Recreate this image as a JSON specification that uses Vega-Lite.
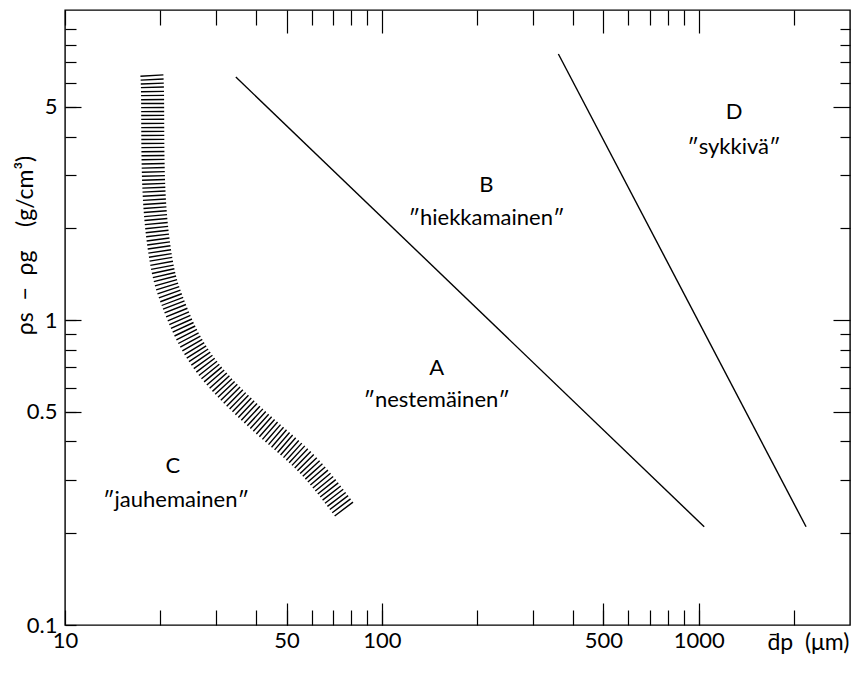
{
  "$schema": "https://vega.github.io/schema/vega-lite/v6.json",
  "autosize": {"type": "none"},
  "padding": {"left": 65, "top": 10, "right": 3, "bottom": 52},
  "width": 785,
  "height": 615,
  "background": "white",
  "config": {
    "view": {"stroke": "black", "strokeWidth": 1.4},
    "axis": {"grid": false, "domain": false, "tickColor": "black", "tickWidth": 1.2, "labelColor": "black", "labelFont": "Lato", "labelFontSize": 22, "titleFont": "Lato", "titleFontSize": 23, "titleFontWeight": "normal", "titleColor": "black", "labelOverlap": false, "labelFlush": false, "labelBound": false},
    "text": {"font": "Lato", "fontSize": 22, "color": "black"}
  },
  "datasets": {
    "band": [
      {"i": 1, "d": 18.80, "r": 6.37},
      {"i": 2, "d": 18.90, "r": 5.27},
      {"i": 3, "d": 18.96, "r": 3.35},
      {"i": 4, "d": 19.36, "r": 2.13},
      {"i": 5, "d": 20.37, "r": 1.46},
      {"i": 6, "d": 21.74, "r": 1.164},
      {"i": 7, "d": 24.06, "r": 0.907},
      {"i": 8, "d": 28.03, "r": 0.702},
      {"i": 9, "d": 34.84, "r": 0.547},
      {"i": 10, "d": 45.24, "r": 0.426},
      {"i": 11, "d": 59.18, "r": 0.330},
      {"i": 12, "d": 76.3, "r": 0.238}
    ],
    "bounds": [
      {"line": "AB", "d": 34.6, "r": 6.27},
      {"line": "AB", "d": 1040, "r": 0.21},
      {"line": "BD", "d": 360.5, "r": 7.46},
      {"line": "BD", "d": 2180, "r": 0.21}
    ],
    "letters": [
      {"d": 21.9, "r": 0.332, "t": "C"},
      {"d": 148.8, "r": 0.696, "t": "A"},
      {"d": 213.8, "r": 2.77, "t": "B"},
      {"d": 1293, "r": 4.81, "t": "D"}
    ],
    "names": [
      {"d": 22.4, "r": 0.257, "t": "″jauhemainen″"},
      {"d": 148.8, "r": 0.547, "t": "″nestemäinen″"},
      {"d": 213.8, "r": 2.16, "t": "″hiekkamainen″"},
      {"d": 1290, "r": 3.70, "t": "″sykkivä″"}
    ]
  },
  "resolve": {"axis": {"x": "independent", "y": "independent"}},
  "layer": [
    {
      "data": {"name": "band"},
      "mark": {"type": "line", "color": "black", "strokeWidth": 23, "strokeDash": [1.4, 2.6], "strokeCap": "butt", "interpolate": "natural"},
      "encoding": {
        "x": {"field": "d", "type": "quantitative", "scale": {"type": "log", "domain": [10, 3000], "nice": false},
          "axis": {"orient": "bottom", "title": "d̄p\u00a0\u00a0(μm)", "titleFontSize": 23, "values": [10,20,30,40,50,60,70,80,90,100,200,300,400,500,600,700,800,900,1000,2000],
            "format": "~g", "labelExpr": "indexof([10,50,100,500,1000], datum.value) >= 0 ? datum.label : ''",
            "tickSize": -15, "labelPadding": 20, "titleAnchor": "end", "titleAlign": "right", "titleX": 784, "titleY": 24, "titleBaseline": "alphabetic"}},
        "y": {"field": "r", "type": "quantitative", "scale": {"type": "log", "domain": [0.1, 10.4], "nice": false},
          "axis": {"orient": "left", "title": "ρs\u00a0\u00a0−\u00a0\u00a0ρg\u00a0\u00a0\u00a0\u00a0(g/cm³)", "values": [0.1,0.2,0.3,0.4,0.5,0.6,0.7,0.8,0.9,1,2,3,4,5,6,7,8,9],
            "format": "~g", "labelExpr": "indexof([0.1,0.5,1,5], datum.value) >= 0 ? datum.label : ''",
            "tickSize": -11, "labelPadding": 19, "titleX": -40, "titleY": 235, "titleAlign": "center", "titleBaseline": "middle", "titleAngle": -90}},
        "order": {"field": "i", "type": "quantitative"}
      }
    },
    {
      "data": {"name": "bounds"},
      "mark": {"type": "line", "color": "black", "strokeWidth": 1.4},
      "encoding": {
        "x": {"field": "d", "type": "quantitative",
          "axis": {"orient": "top", "title": null, "labels": false, "values": [10,20,30,40,60,70,80,90,200,300,400,600,700,800,900,2000], "tickSize": -15}},
        "y": {"field": "r", "type": "quantitative",
          "axis": {"orient": "right", "title": null, "labels": false, "values": [0.2,0.3,0.4,0.6,0.7,0.8,0.9,2,3,4,6,7,8,9], "tickSize": -10}},
        "detail": {"field": "line", "type": "nominal"}
      }
    },
    {
      "data": {"name": "letters"},
      "mark": {"type": "text", "align": "center", "baseline": "middle"},
      "encoding": {
        "x": {"field": "d", "type": "quantitative",
          "axis": {"orient": "bottom", "title": null, "labels": false, "values": [50,100,500,1000], "tickSize": -22}},
        "y": {"field": "r", "type": "quantitative",
          "axis": {"orient": "left", "title": null, "labels": false, "values": [0.5,1,5], "tickSize": -16}},
        "text": {"field": "t", "type": "nominal"}
      }
    },
    {
      "data": {"name": "names"},
      "mark": {"type": "text", "align": "center", "baseline": "middle"},
      "encoding": {
        "x": {"field": "d", "type": "quantitative",
          "axis": {"orient": "top", "title": null, "labels": false, "values": [50,100,500,1000], "tickSize": -23}},
        "y": {"field": "r", "type": "quantitative",
          "axis": {"orient": "right", "title": null, "labels": false, "values": [0.5,1,5], "tickSize": -17}},
        "text": {"field": "t", "type": "nominal"}
      }
    }
  ]
}
